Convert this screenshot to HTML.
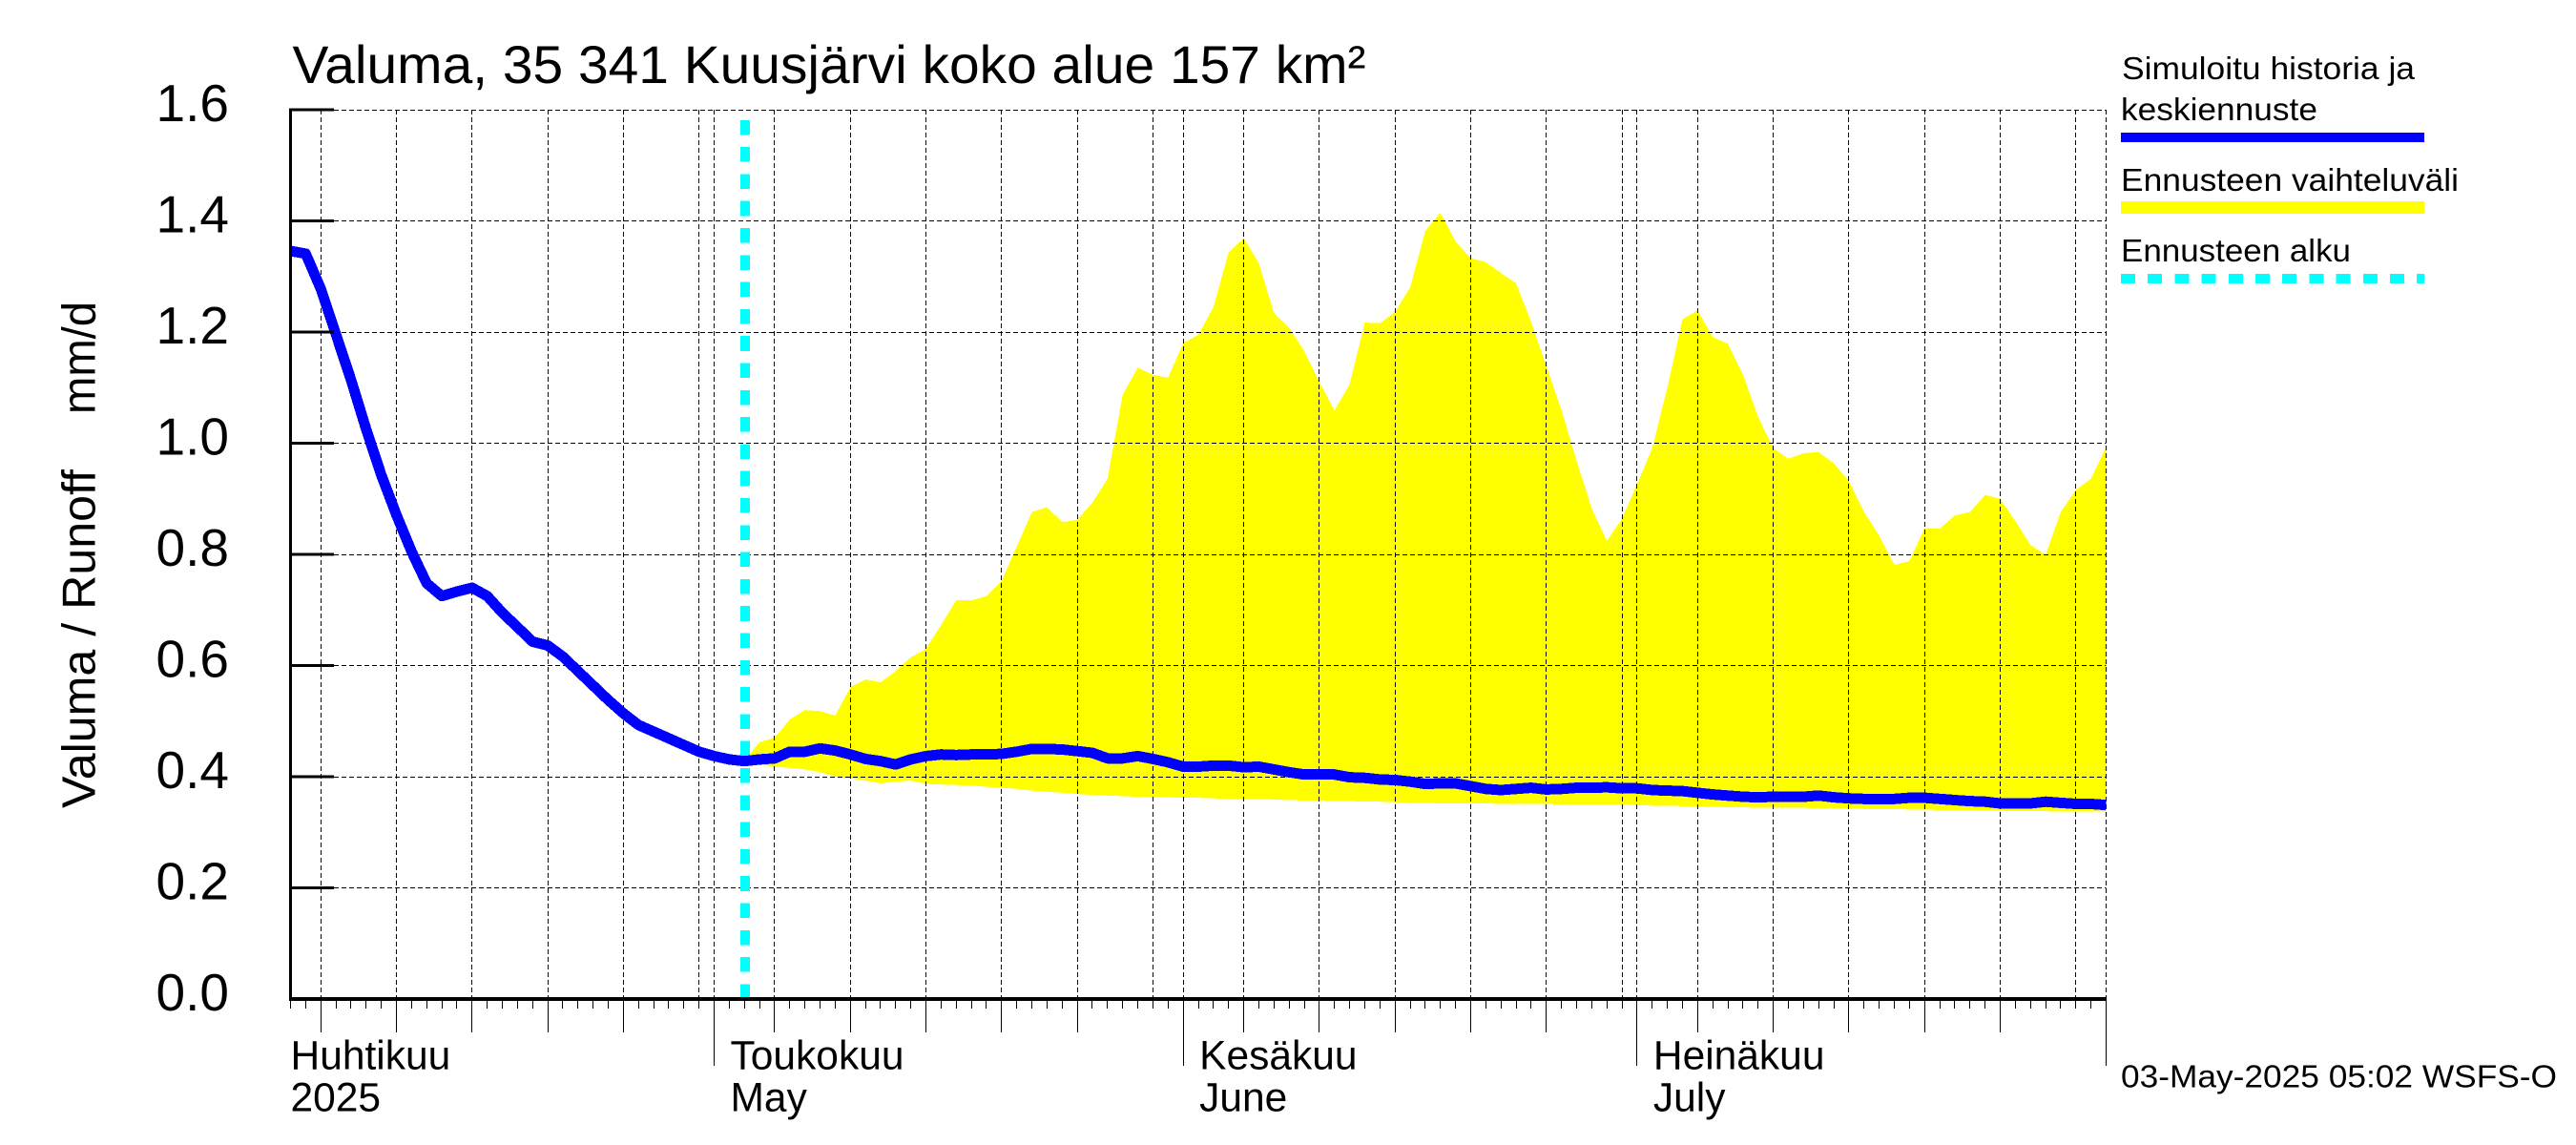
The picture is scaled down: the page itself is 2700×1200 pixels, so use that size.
<!DOCTYPE html>
<html lang="fi">
<head>
<meta charset="utf-8">
<title>Valuma, 35 341 Kuusjärvi koko alue 157 km²</title>
<style>
html,body{margin:0;padding:0;background:#fff;}
svg{display:block;}
text{font-family:"Liberation Sans",sans-serif;fill:#000;}
</style>
</head>
<body>
<svg id="chart" xmlns="http://www.w3.org/2000/svg" width="2700" height="1200" viewBox="0 0 2700 1200">
  <rect x="0" y="0" width="2700" height="1200" fill="#fff"/>
  <g id="band"></g>
  <g id="grid"></g>
  <g id="start"></g>
  <g id="line"></g>
  <g id="axes"></g>
  <g id="labels"></g>

  <text x="306.5" y="87" font-size="56" textLength="1125" lengthAdjust="spacingAndGlyphs">Valuma, 35 341 Kuusjärvi koko alue 157 km²</text>

  <text transform="translate(99.5,847) rotate(-90)" font-size="49.5" textLength="355" lengthAdjust="spacingAndGlyphs">Valuma / Runoff</text>
  <text transform="translate(99.5,434) rotate(-90)" font-size="49.5" textLength="118" lengthAdjust="spacingAndGlyphs">mm/d</text>

  <g>
    <text x="2224" y="83" font-size="33" textLength="307" lengthAdjust="spacingAndGlyphs">Simuloitu historia ja</text>
    <text x="2223" y="126" font-size="33" textLength="206" lengthAdjust="spacingAndGlyphs">keskiennuste</text>
    <rect x="2223" y="139" width="318" height="10" fill="#0000ff"/>
    <text x="2223" y="200" font-size="33" textLength="354" lengthAdjust="spacingAndGlyphs">Ennusteen vaihteluväli</text>
    <rect x="2223" y="211" width="318" height="13" fill="#ffff00"/>
    <text x="2223" y="274" font-size="33" textLength="241" lengthAdjust="spacingAndGlyphs">Ennusteen alku</text>
    <line x1="2223" y1="292" x2="2541" y2="292" stroke="#00ffff" stroke-width="10" stroke-dasharray="15 13.2" shape-rendering="crispEdges"/>
  </g>

  <text x="2223" y="1139.5" font-size="33.5" textLength="457" lengthAdjust="spacingAndGlyphs">03-May-2025 05:02 WSFS-O</text>
</svg>

<script>
// Day 0 = 3 April 2025, one value per day.
const simulated = [
  1.346,1.341,1.278,1.196,1.114,1.025,0.943,0.871,0.805,0.748,
  0.725,0.733,0.740,0.725,0.695,0.669,0.643,0.636,0.616,0.590,
  0.564,0.538,0.514,0.493,0.481,0.469,0.457,0.445,0.437,0.431,
  0.428,0.431,0.433,0.445,0.445,0.451,0.447,0.440,0.432,0.428,
  0.422,0.431,0.437,0.440,0.439,0.440,0.440,0.441,0.445,0.450,
  0.450,0.449,0.446,0.443,0.433,0.433,0.437,0.432,0.426,0.418,
  0.418,0.420,0.420,0.417,0.418,0.413,0.408,0.404,0.404,0.404,
  0.399,0.398,0.395,0.394,0.391,0.387,0.388,0.388,0.383,0.378,
  0.376,0.378,0.380,0.377,0.378,0.380,0.380,0.381,0.379,0.379,
  0.376,0.375,0.374,0.371,0.368,0.366,0.364,0.363,0.364,0.364,
  0.364,0.366,0.363,0.361,0.360,0.360,0.360,0.362,0.362,0.360,
  0.358,0.356,0.355,0.352,0.352,0.352,0.355,0.353,0.351,0.351,
  0.349
];
const rangeFirstDay = 30;
const rangeUpper = [
  0.428,0.462,0.470,0.503,0.520,0.518,0.510,0.561,0.575,0.570,
  0.590,0.615,0.630,0.673,0.718,0.717,0.725,0.752,0.814,0.876,
  0.885,0.858,0.862,0.893,0.936,1.087,1.136,1.123,1.118,1.180,
  1.195,1.245,1.343,1.369,1.324,1.234,1.208,1.166,1.110,1.059,
  1.106,1.217,1.216,1.236,1.280,1.382,1.415,1.363,1.333,1.326,
  1.306,1.288,1.218,1.139,1.060,0.968,0.883,0.824,0.864,0.926,
  0.991,1.100,1.223,1.239,1.191,1.179,1.123,1.047,0.991,0.972,
  0.982,0.984,0.964,0.932,0.876,0.834,0.781,0.788,0.847,0.846,
  0.870,0.876,0.907,0.900,0.860,0.817,0.799,0.876,0.916,0.936,
  0.993
];
const rangeLower = [
  0.428,0.421,0.418,0.416,0.413,0.408,0.400,0.397,0.393,0.388,
  0.391,0.393,0.387,0.386,0.385,0.384,0.382,0.380,0.378,0.375,
  0.373,0.371,0.369,0.367,0.366,0.365,0.364,0.364,0.363,0.362,
  0.362,0.361,0.360,0.360,0.360,0.359,0.358,0.357,0.357,0.356,
  0.356,0.355,0.355,0.354,0.353,0.353,0.352,0.352,0.352,0.352,
  0.351,0.351,0.351,0.351,0.350,0.350,0.350,0.350,0.350,0.349,
  0.348,0.348,0.347,0.346,0.346,0.345,0.345,0.344,0.344,0.344,
  0.344,0.343,0.343,0.343,0.342,0.342,0.342,0.341,0.341,0.340,
  0.340,0.340,0.339,0.339,0.338,0.338,0.338,0.337,0.337,0.337,
  0.337
];
const forecastStartDay = 30.05;
const lastDay = 120;
const yTicks = [0, 0.2, 0.4, 0.6, 0.8, 1.0, 1.2, 1.4, 1.6];
const yTickLabels = ['0.0','0.2','0.4','0.6','0.8','1.0','1.2','1.4','1.6'];
const fiveDayGridDays = [2,7,12,17,22,27,32,37,42,47,52,57,63,68,73,78,83,88,93,98,103,108,113,118];
const shortGridDays = [27,57,88,118];
const monthStartDays = [28,59,89,120];
const monthLabelDays = [0,28,59,89];
const monthLabelsFi = ['Huhtikuu','Toukokuu','Kesäkuu','Heinäkuu'];
const monthLabelsEn = ['2025','May','June','July'];

function xScale(day) { return 304.5 + (2207.5 - 304.5) * day / lastDay; }
function yScale(v) { return 1047 - (1047 - 115) * v / 1.6; }

const SVGNS = 'http://www.w3.org/2000/svg';
function make(parent, tag, attrs) {
  const el = document.createElementNS(SVGNS, tag);
  for (const k in attrs) el.setAttribute(k, attrs[k]);
  parent.appendChild(el);
  return el;
}
const snap = v => Math.round(v - 0.5) + 0.5;

// forecast range band
const bandLayer = document.getElementById('band');
const upperPts = rangeUpper.map((v, i) => xScale(rangeFirstDay + i).toFixed(1) + ',' + yScale(v).toFixed(1));
const lowerPts = rangeLower.map((v, i) => xScale(rangeFirstDay + i).toFixed(1) + ',' + yScale(v).toFixed(1)).reverse();
const band = make(bandLayer, 'polygon', {points: upperPts.concat(lowerPts).join(' '), fill: '#ffff00', 'shape-rendering': 'crispEdges'});



// grid
const gridLayer = document.getElementById('grid');
const gridStyle = {stroke: '#000', 'stroke-width': 1, 'stroke-dasharray': '5 3', 'shape-rendering': 'crispEdges'};
yTicks.slice(1).forEach(v => {
  const l = make(gridLayer, 'line', Object.assign({x1: 350, x2: 2207.5, y1: snap(yScale(v)), y2: snap(yScale(v))}, gridStyle));
  
  
});
fiveDayGridDays.concat(monthStartDays).forEach(d => {
  const x = snap(xScale(d));
  const l = make(gridLayer, 'line', Object.assign({x1: x, x2: x, y1: 115, y2: 1047}, gridStyle));
  
  
});

// forecast start marker
const startLayer = document.getElementById('start');
const sx = xScale(forecastStartDay);
const startLine = make(startLayer, 'line', {x1: sx, x2: sx, y1: 1047, y2: 126, stroke: '#00ffff', 'stroke-width': 10, 'stroke-dasharray': '15.6 12.7', 'shape-rendering': 'crispEdges'});



// simulated line
const lineLayer = document.getElementById('line');
const linePts = simulated.map((v, i) => xScale(i).toFixed(1) + ',' + yScale(v).toFixed(1)).join(' ');
const runoff = make(lineLayer, 'polyline', {points: linePts, fill: 'none', stroke: '#0000ff', 'stroke-width': 11, 'stroke-linejoin': 'round', 'shape-rendering': 'crispEdges'});



// axes
const axesLayer = document.getElementById('axes');
const yAxis = make(axesLayer, 'line', {x1: 304.5, x2: 304.5, y1: 113.5, y2: 1048.5, stroke: '#000', 'stroke-width': 3, 'shape-rendering': 'crispEdges'});


const xAxis = make(axesLayer, 'line', {x1: 303, x2: 2208, y1: 1047, y2: 1047, stroke: '#000', 'stroke-width': 4, 'shape-rendering': 'crispEdges'});


yTicks.slice(1).forEach(v => {
  const t = make(axesLayer, 'line', {x1: 304, x2: 350, y1: yScale(v), y2: yScale(v), stroke: '#000', 'stroke-width': 3, 'shape-rendering': 'crispEdges'});
  
  
});
for (let d = 0; d <= lastDay; d++) {
  let bottom = 1057;
  if (fiveDayGridDays.includes(d) && !shortGridDays.includes(d)) bottom = 1082;
  if (monthStartDays.includes(d)) bottom = 1117;
  const x = snap(xScale(d));
  const t = make(axesLayer, 'line', {x1: x, x2: x, y1: 1047, y2: bottom, stroke: '#000', 'stroke-width': 1, 'shape-rendering': 'crispEdges'});
  
  
}

// tick labels
const labelLayer = document.getElementById('labels');
yTicks.forEach((v, i) => {
  const t = make(labelLayer, 'text', {x: 240, y: yScale(v) + 12, 'font-size': 55, 'text-anchor': 'end'});
  t.textContent = yTickLabels[i];
  
  
});
monthLabelDays.forEach((d, i) => {
  const x = d === 0 ? xScale(d) + 0 : xScale(d) + 17;
  const fi = make(labelLayer, 'text', {x: x, y: 1120.5, 'font-size': 42.5});
  fi.textContent = monthLabelsFi[i];
  
  
  const en = make(labelLayer, 'text', {x: x, y: 1164.5, 'font-size': 42.5});
  en.textContent = monthLabelsEn[i];
  
  
});
</script>
</body>
</html>
